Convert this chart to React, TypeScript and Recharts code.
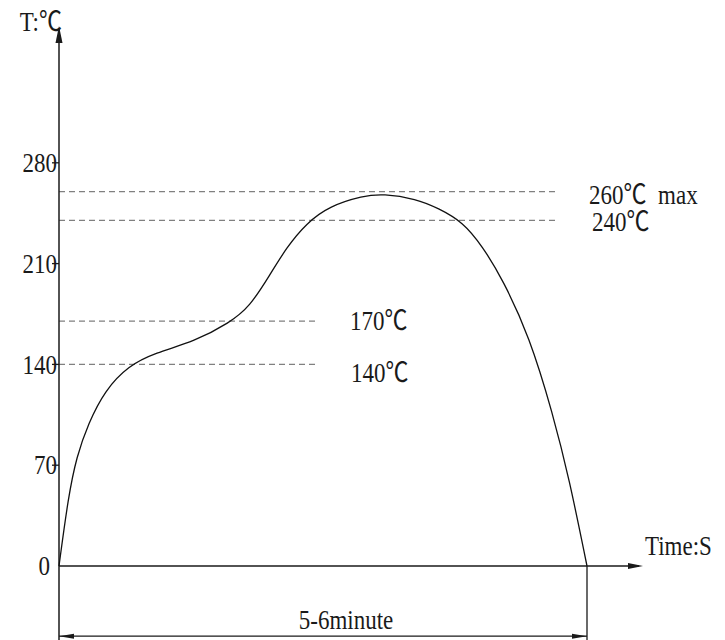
import React from "react";
import { ComposedChart, Line, XAxis, YAxis, ReferenceLine } from "recharts";

// reflow profile (time in s, temperature in ℃)
const times = [0, 5.8, 11, 18.3, 28.7, 43.3, 59.9, 84.9, 106.7, 119.2, 131.7, 142.1, 154.6, 169.2, 190, 202.4, 223.3, 237, 252.4, 264.7, 277.3, 294, 308.6, 319, 330];
const temps = [0, 48, 76, 99, 122, 139, 148, 156, 169, 180, 202, 221, 238, 250, 257, 258.5, 255, 248.5, 239, 222, 199, 159.5, 106, 60, 0];

const yTicks = [0, 70, 140, 210, 280];

const limitLines = [
  { value: 260, end: 310.7, text: "260℃\u00a0\u00a0max", dx: 33, dy: 3 },
  { value: 240, end: 310.7, text: "240℃", dx: 36, dy: 1 },
  { value: 170, end: 162.5, text: "170℃", dx: 31, dy: 0 },
  { value: 140, end: 162.5, text: "140℃", dx: 32, dy: 8 },
];

const xMax = 365;
const yMax = 375;
const profileEnd = 330;
const dimLevel = -48.7;
const extLevel = -52;

const data = times.map((t, i) => ({ t, T: temps[i] }));

const FONT = "'Liberation Serif', 'Noto Sans CJK SC', serif";
const INK = "#1a1a1a";

function Txt({ x, y, children, anchor = "start", size = 23 }: any) {
  return (
    <text
      transform={`translate(${x},${y}) scale(1,1.18)`}
      textAnchor={anchor}
      dominantBaseline="central"
      fontFamily={FONT}
      fontSize={size}
      fill={INK}
    >
      {children}
    </text>
  );
}

function YTick({ x, y, payload }: any) {
  const v = payload.value;
  if (v === 0) return <Txt x={x - 9} y={y} anchor="end">0</Txt>;
  return (
    <g>
      <Txt x={x - 2} y={y} anchor="end">{String(v)}</Txt>
      <line x1={x - 7} x2={x} y1={y} y2={y} stroke={INK} strokeWidth={1.3} />
    </g>
  );
}

function XAxisShape(p: any) {
  const { x1, y1, x2 } = p;
  const tip = Math.max(x1, x2);
  return (
    <g>
      <line x1={Math.min(x1, x2)} x2={tip - 4} y1={y1} y2={y1} stroke={INK} strokeWidth={1.5} />
      <polygon points={`${tip},${y1} ${tip - 15},${y1 - 3} ${tip - 15},${y1 + 3}`} fill={INK} />
    </g>
  );
}

function YAxisShape(p: any) {
  const { x1, y1, y2 } = p;
  const tip = Math.min(y1, y2);
  return (
    <g>
      <line x1={x1} x2={x1} y1={Math.max(y1, y2)} y2={tip + 4} stroke={INK} strokeWidth={1.5} />
      <polygon points={`${x1},${tip} ${x1 - 3.5},${tip + 17} ${x1 + 3.5},${tip + 17}`} fill={INK} />
    </g>
  );
}

function DimShape(p: any) {
  const { x1, y1, x2 } = p;
  const a = Math.min(x1, x2);
  const b = Math.max(x1, x2);
  return (
    <g>
      <line x1={a} x2={b} y1={y1} y2={y1} stroke={INK} strokeWidth={1.3} />
      <polygon points={`${a},${y1} ${a + 15},${y1 - 2.5} ${a + 15},${y1 + 2.5}`} fill={INK} />
      <polygon points={`${b},${y1} ${b - 15},${y1 - 2.5} ${b - 15},${y1 + 2.5}`} fill={INK} />
    </g>
  );
}

export default function App() {
  return (
    <div style={{ position: "absolute", left: 0, top: 0, background: "#fff" }}>
      <ComposedChart width={725} height={640} data={data} margin={{ top: 26, right: 82, bottom: 74, left: 0 }}>
        <XAxis type="number" dataKey="t" domain={[0, xMax]} hide />
        <YAxis
          type="number"
          domain={[0, yMax]}
          ticks={yTicks}
          width={59}
          axisLine={false}
          tickLine={false}
          tickSize={0}
          tickMargin={0}
          tick={<YTick />}
          interval={0}
        />

        {limitLines.map((l) => (
          <ReferenceLine
            key={l.value}
            segment={[{ x: 0, y: l.value }, { x: l.end, y: l.value }]}
            stroke="#808080"
            strokeWidth={1.2}
            strokeDasharray="6 4"
            label={{
              content: ({ viewBox }: any) => (
                <Txt x={viewBox.x + viewBox.width + l.dx} y={viewBox.y + l.dy}>{l.text}</Txt>
              ),
            }}
          />
        ))}

        <ReferenceLine
          segment={[{ x: 0, y: 0 }, { x: xMax, y: 0 }]}
          shape={XAxisShape}
          ifOverflow="visible"
          label={{
            content: ({ viewBox }: any) => (
              <Txt x={viewBox.x + viewBox.width + 2} y={viewBox.y - 20}>Time:S</Txt>
            ),
          }}
        />
        <ReferenceLine
          segment={[{ x: 0, y: extLevel }, { x: 0, y: yMax }]}
          shape={YAxisShape}
          ifOverflow="visible"
          label={{
            content: ({ viewBox }: any) => (
              <Txt x={viewBox.x + 3} y={viewBox.y - 4} anchor="end">T:℃</Txt>
            ),
          }}
        />
        <ReferenceLine
          segment={[{ x: profileEnd, y: extLevel }, { x: profileEnd, y: 0 }]}
          stroke={INK}
          strokeWidth={1.3}
          ifOverflow="visible"
        />
        <ReferenceLine
          segment={[{ x: 0, y: dimLevel }, { x: profileEnd, y: dimLevel }]}
          shape={DimShape}
          ifOverflow="visible"
          label={{
            content: ({ viewBox }: any) => (
              <Txt x={viewBox.x + viewBox.width / 2 + 23} y={viewBox.y - 16} anchor="middle">5-6minute</Txt>
            ),
          }}
        />

        <Line
          type="basis"
          dataKey="T"
          stroke="#111"
          strokeWidth={1.3}
          dot={false}
          activeDot={false}
          isAnimationActive={false}
        />
      </ComposedChart>
    </div>
  );
}
